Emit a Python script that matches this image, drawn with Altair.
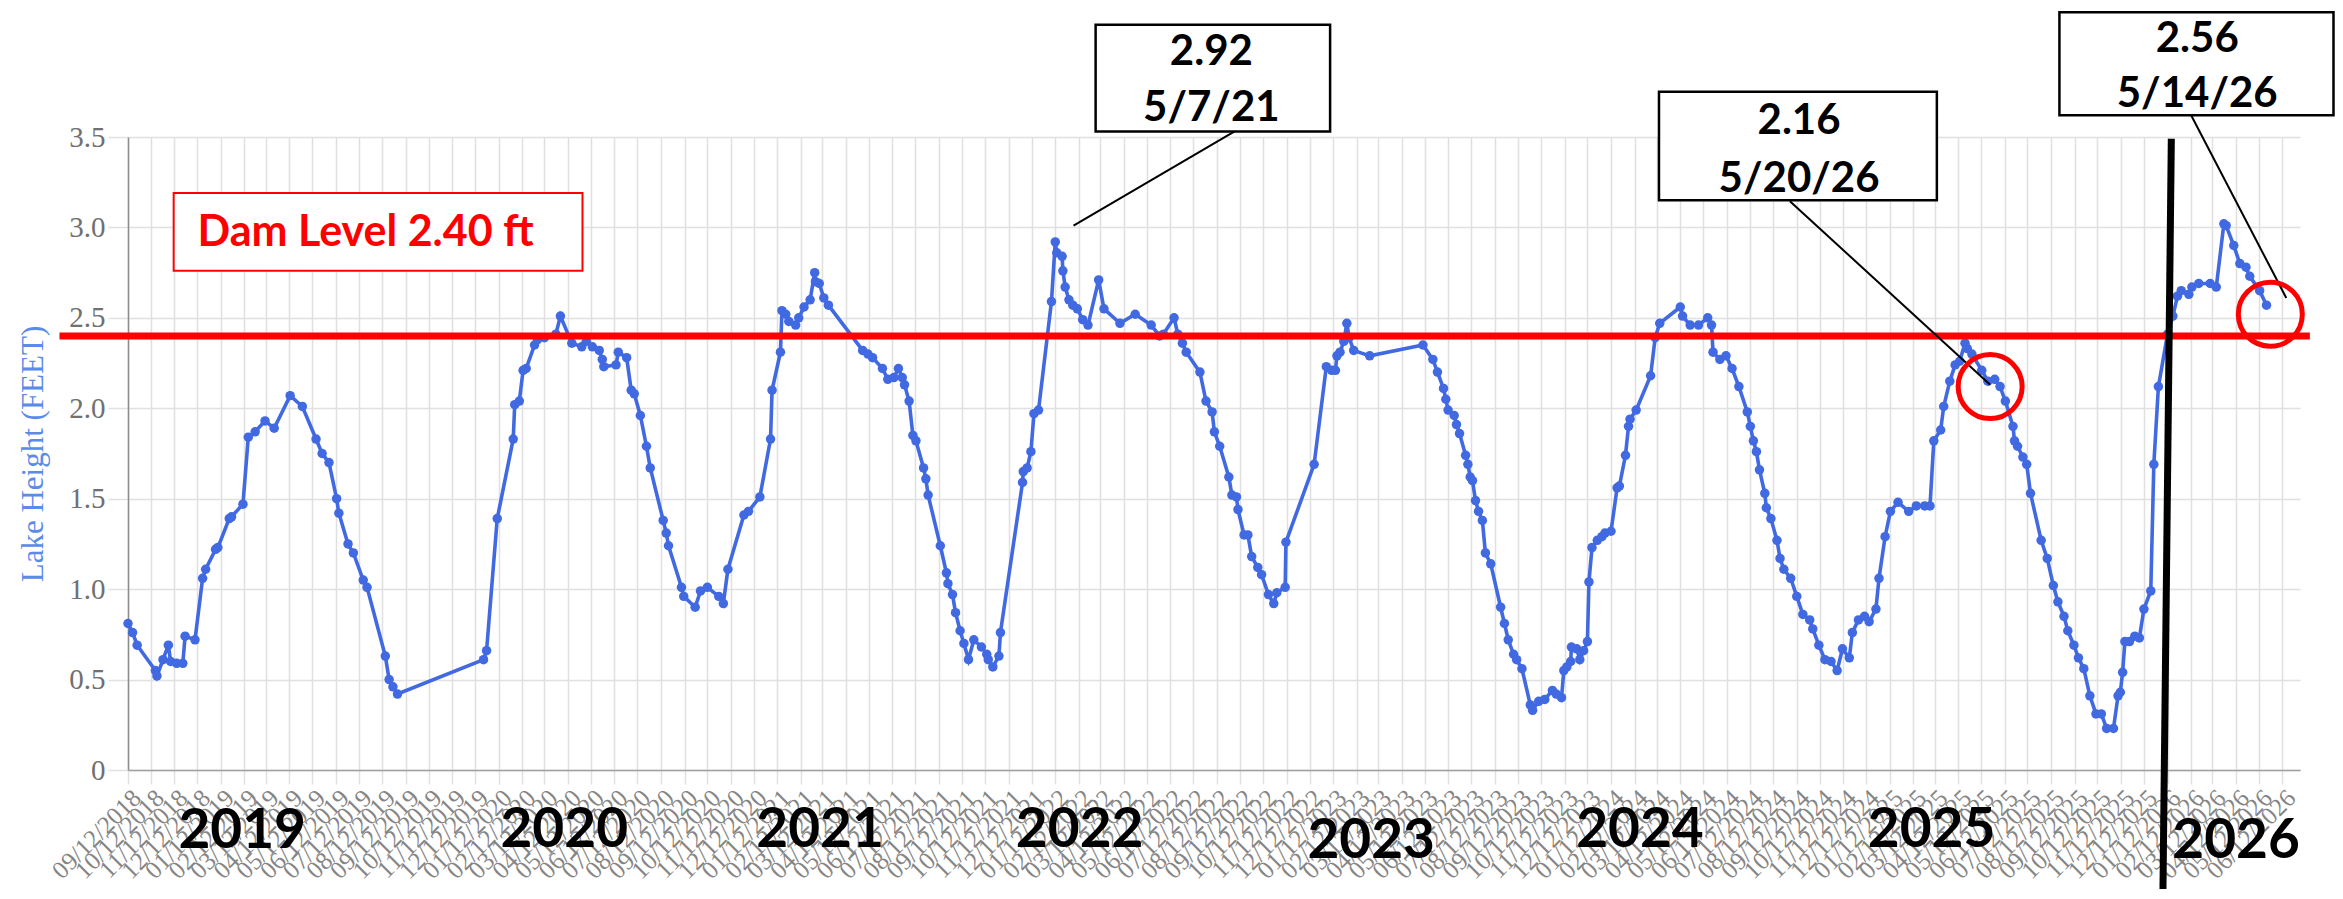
import altair as alt
import pandas as pd

BLUE = "#4169E1"
RED = "#ff0000"

# ---------------- data: lake height readings ----------------
dates_2018 = ["2018-09-12", "2018-09-18", "2018-09-24", "2018-10-18", "2018-10-20", "2018-10-28",
              "2018-11-04", "2018-11-07", "2018-11-15", "2018-11-23", "2018-11-26", "2018-12-09",
              "2018-12-19", "2018-12-23"]
vals_2018 = [0.81, 0.76, 0.69, 0.55, 0.52, 0.61, 0.69, 0.60, 0.59, 0.59, 0.74, 0.72, 1.06, 1.11]

dates_2019 = ["2019-01-05", "2019-01-08", "2019-01-23", "2019-01-26", "2019-02-10", "2019-02-17",
              "2019-02-26", "2019-03-11", "2019-03-23", "2019-04-13", "2019-04-29", "2019-05-17",
              "2019-05-25", "2019-06-03", "2019-06-13", "2019-06-16", "2019-06-28", "2019-07-05",
              "2019-07-18", "2019-07-23", "2019-08-16", "2019-08-21", "2019-08-26", "2019-09-01",
              "2019-12-23", "2019-12-27"]
vals_2019 = [1.22, 1.23, 1.39, 1.40, 1.47, 1.84, 1.87, 1.93, 1.89, 2.07, 2.01, 1.83, 1.75, 1.70,
             1.50, 1.42, 1.25, 1.20, 1.05, 1.01, 0.63, 0.50, 0.46, 0.42, 0.61, 0.66]

dates_2020 = ["2020-01-10", "2020-01-31", "2020-02-02", "2020-02-08", "2020-02-13", "2020-02-17",
              "2020-02-28", "2020-03-03", "2020-03-12", "2020-03-27", "2020-04-02", "2020-04-17",
              "2020-04-30", "2020-05-06", "2020-05-14", "2020-05-23", "2020-05-27", "2020-05-29",
              "2020-06-14", "2020-06-17", "2020-06-28", "2020-07-04", "2020-07-08", "2020-07-16",
              "2020-07-24", "2020-07-29", "2020-08-15", "2020-08-19", "2020-08-22", "2020-09-08",
              "2020-09-11", "2020-09-26", "2020-10-03", "2020-10-12", "2020-10-27", "2020-11-02",
              "2020-11-08", "2020-11-29", "2020-12-05", "2020-12-20"]
vals_2020 = [1.39, 1.83, 2.02, 2.04, 2.21, 2.22, 2.35, 2.38, 2.39, 2.41, 2.51, 2.36, 2.34, 2.37,
             2.34, 2.32, 2.27, 2.23, 2.24, 2.31, 2.28, 2.10, 2.08, 1.96, 1.79, 1.67, 1.38, 1.31,
             1.24, 1.01, 0.96, 0.90, 0.99, 1.01, 0.96, 0.92, 1.11, 1.41, 1.43, 1.51]

dates_2021 = ["2021-01-03", "2021-01-05", "2021-01-16", "2021-01-18", "2021-01-23", "2021-01-27",
              "2021-02-05", "2021-02-09", "2021-02-16", "2021-02-24", "2021-03-02", "2021-03-03",
              "2021-03-08", "2021-03-14", "2021-03-20", "2021-05-04", "2021-05-11", "2021-05-17",
              "2021-05-30", "2021-06-06", "2021-06-14", "2021-06-20", "2021-06-25", "2021-06-28",
              "2021-07-04", "2021-07-09", "2021-07-13", "2021-07-23", "2021-07-26", "2021-07-29",
              "2021-08-14", "2021-08-22", "2021-08-24", "2021-08-30", "2021-09-03", "2021-09-09",
              "2021-09-14", "2021-09-20", "2021-09-27", "2021-10-07", "2021-10-14", "2021-10-16",
              "2021-10-22", "2021-10-30", "2021-11-01", "2021-11-30", "2021-12-01", "2021-12-06",
              "2021-12-11", "2021-12-15", "2021-12-21"]
vals_2021 = [1.83, 2.10, 2.31, 2.54, 2.52, 2.48, 2.46, 2.50, 2.56, 2.60, 2.75, 2.70, 2.69, 2.61,
             2.57, 2.32, 2.30, 2.28, 2.22, 2.16, 2.17, 2.22, 2.17, 2.13, 2.04, 1.85, 1.82, 1.67,
             1.61, 1.52, 1.24, 1.09, 1.03, 0.97, 0.87, 0.77, 0.70, 0.61, 0.72, 0.68, 0.64, 0.61,
             0.57, 0.63, 0.76, 1.59, 1.65, 1.67, 1.76, 1.97, 1.99]

dates_2022 = ["2022-01-07", "2022-01-12", "2022-01-14", "2022-01-21", "2022-01-22", "2022-01-25",
              "2022-01-30", "2022-02-04", "2022-02-10", "2022-02-17", "2022-02-24", "2022-03-10",
              "2022-03-17", "2022-04-07", "2022-04-27", "2022-05-18", "2022-05-29", "2022-06-03",
              "2022-06-17", "2022-06-22", "2022-06-28", "2022-07-03", "2022-07-21", "2022-07-29",
              "2022-08-06", "2022-08-09", "2022-08-16", "2022-08-28", "2022-09-01", "2022-09-07",
              "2022-09-09", "2022-09-17", "2022-09-22", "2022-09-27", "2022-10-05", "2022-10-10",
              "2022-10-19", "2022-10-26", "2022-10-30", "2022-11-10", "2022-11-11", "2022-12-18"]
vals_2022 = [2.59, 2.92, 2.86, 2.84, 2.76, 2.67, 2.60, 2.57, 2.55, 2.49, 2.46, 2.71, 2.55, 2.47,
             2.52, 2.46, 2.40, 2.41, 2.50, 2.41, 2.36, 2.31, 2.20, 2.04, 1.98, 1.87, 1.79, 1.62,
             1.52, 1.51, 1.44, 1.30, 1.30, 1.18, 1.12, 1.08, 0.97, 0.92, 0.98, 1.01, 1.26, 1.69]

dates_2023 = ["2023-01-03", "2023-01-10", "2023-01-15", "2023-01-17", "2023-01-21", "2023-01-26",
              "2023-01-30", "2023-02-02", "2023-02-08", "2023-03-01", "2023-05-10", "2023-05-23",
              "2023-05-29", "2023-06-06", "2023-06-09", "2023-06-12", "2023-06-20", "2023-06-23",
              "2023-06-27", "2023-07-05", "2023-07-08", "2023-07-11", "2023-07-14", "2023-07-18",
              "2023-07-22", "2023-07-27", "2023-07-31", "2023-08-07", "2023-08-20", "2023-08-25",
              "2023-08-30", "2023-09-06", "2023-09-10", "2023-09-17", "2023-09-28", "2023-10-01",
              "2023-10-09", "2023-10-17", "2023-10-27", "2023-11-01", "2023-11-08", "2023-11-11",
              "2023-11-15", "2023-11-20", "2023-11-21", "2023-11-28", "2023-12-02", "2023-12-07",
              "2023-12-12", "2023-12-14", "2023-12-18", "2023-12-25", "2023-12-31"]
vals_2023 = [2.23, 2.21, 2.21, 2.29, 2.31, 2.37, 2.47, 2.39, 2.32, 2.29, 2.35, 2.27, 2.20, 2.11,
             2.05, 1.99, 1.96, 1.91, 1.86, 1.74, 1.69, 1.62, 1.60, 1.49, 1.43, 1.38, 1.20, 1.14,
             0.90, 0.81, 0.72, 0.64, 0.61, 0.56, 0.36, 0.33, 0.38, 0.39, 0.44, 0.42, 0.40, 0.55,
             0.57, 0.60, 0.68, 0.67, 0.61, 0.66, 0.71, 1.04, 1.23, 1.27, 1.29]

dates_2024 = ["2024-01-04", "2024-01-12", "2024-01-20", "2024-01-23", "2024-01-31", "2024-02-04",
              "2024-02-06", "2024-02-14", "2024-03-04", "2024-03-10", "2024-03-16", "2024-04-12",
              "2024-04-15", "2024-04-25", "2024-05-06", "2024-05-18", "2024-05-23", "2024-05-25",
              "2024-06-03", "2024-06-11", "2024-06-19", "2024-06-28", "2024-07-09", "2024-07-13",
              "2024-07-17", "2024-07-21", "2024-07-25", "2024-08-01", "2024-08-03", "2024-08-09",
              "2024-08-17", "2024-08-21", "2024-08-26", "2024-09-04", "2024-09-12", "2024-09-20",
              "2024-09-29", "2024-10-03", "2024-10-11", "2024-10-19", "2024-10-27", "2024-11-04",
              "2024-11-11", "2024-11-20", "2024-11-24", "2024-12-02", "2024-12-10", "2024-12-16",
              "2024-12-25", "2024-12-29"]
vals_2024 = [1.31, 1.32, 1.56, 1.57, 1.74, 1.90, 1.94, 1.99, 2.18, 2.39, 2.47, 2.56, 2.51, 2.46,
             2.46, 2.50, 2.46, 2.31, 2.27, 2.29, 2.22, 2.12, 1.98, 1.90, 1.82, 1.76, 1.66, 1.53,
             1.45, 1.39, 1.27, 1.17, 1.11, 1.06, 0.96, 0.86, 0.83, 0.78, 0.69, 0.61, 0.60, 0.55,
             0.67, 0.62, 0.76, 0.83, 0.85, 0.82, 0.89, 1.06]

dates_2025 = ["2025-01-06", "2025-01-13", "2025-01-23", "2025-02-06", "2025-02-16", "2025-02-27",
              "2025-03-06", "2025-03-11", "2025-03-20", "2025-03-24", "2025-04-01", "2025-04-08",
              "2025-04-14", "2025-04-21", "2025-04-24", "2025-04-30", "2025-05-13", "2025-05-21",
              "2025-05-30", "2025-06-06", "2025-06-13", "2025-06-23", "2025-06-25", "2025-06-29",
              "2025-07-06", "2025-07-11", "2025-07-16", "2025-07-30", "2025-08-07", "2025-08-15",
              "2025-08-21", "2025-08-29", "2025-09-03", "2025-09-11", "2025-09-17", "2025-09-24",
              "2025-10-02", "2025-10-10", "2025-10-17", "2025-10-24", "2025-11-02", "2025-11-08",
              "2025-11-11", "2025-11-14", "2025-11-17", "2025-11-23", "2025-11-30", "2025-12-06",
              "2025-12-12", "2025-12-21", "2025-12-25", "2025-12-31"]
vals_2025 = [1.29, 1.43, 1.48, 1.43, 1.46, 1.46, 1.46, 1.82, 1.88, 2.01, 2.15, 2.24, 2.26, 2.36,
             2.33, 2.30, 2.21, 2.15, 2.16, 2.12, 2.04, 1.90, 1.82, 1.79, 1.73, 1.69, 1.53, 1.27,
             1.17, 1.02, 0.93, 0.85, 0.77, 0.69, 0.62, 0.56, 0.41, 0.31, 0.31, 0.23, 0.23, 0.41,
             0.43, 0.54, 0.71, 0.71, 0.74, 0.73, 0.89, 0.99, 1.69, 2.12]

dates_2026 = ["2026-01-12", "2026-01-19", "2026-01-25", "2026-01-30", "2026-02-09", "2026-02-13",
              "2026-02-22", "2026-03-09", "2026-03-17", "2026-03-27", "2026-03-30", "2026-04-09",
              "2026-04-17", "2026-04-25", "2026-04-30", "2026-05-13", "2026-05-22"]
vals_2026 = [2.41, 2.51, 2.62, 2.65, 2.63, 2.67, 2.69, 2.69, 2.67, 3.02, 3.01, 2.90, 2.80, 2.78,
             2.73, 2.65, 2.57]

all_dates = (dates_2018 + dates_2019 + dates_2020 + dates_2021 + dates_2022 + dates_2023
             + dates_2024 + dates_2025 + dates_2026)
all_vals = (vals_2018 + vals_2019 + vals_2020 + vals_2021 + vals_2022 + vals_2023
            + vals_2024 + vals_2025 + vals_2026)
df = pd.DataFrame({"date": all_dates, "value": all_vals})

# ---------------- annotations (data coordinates) ----------------
dam_level = 2.40
dam_line = pd.DataFrame({"date": ["2018-06-14"], "date2": ["2026-07-18"], "value": [dam_level]})
dam_box = pd.DataFrame({"date": ["2018-11-11"], "date2": ["2020-05-01"], "value": [3.19], "value2": [2.76]})
dam_text = pd.DataFrame({"date": ["2019-07-21"], "value": [2.97], "label": ["Dam Level 2.40 ft"]})

box_x1 = ["2022-03-06", "2024-03-15", "2025-08-23"]
box_x2 = ["2023-01-08", "2025-03-15", "2026-08-18"]
box_top = [4.12, 3.75, 4.19]
box_bottom = [3.53, 3.15, 3.62]
boxes = pd.DataFrame({"date": box_x1, "date2": box_x2, "value": box_top, "value2": box_bottom})

note_dates = ["2022-08-05", "2022-08-05", "2024-09-15", "2024-09-15", "2026-02-20", "2026-02-20"]
note_vals = [3.97, 3.66, 3.59, 3.27, 4.04, 3.74]
note_text = ["2.92", "5/7/21", "2.16", "5/20/26", "2.56", "5/14/26"]
notes = pd.DataFrame({"date": note_dates, "value": note_vals, "label": note_text})

conn_x1 = ["2022-02-05", "2024-09-03", "2026-02-12"]
conn_y1 = [3.01, 3.145, 3.62]
conn_x2 = ["2022-09-04", "2025-05-24", "2026-06-17"]
conn_y2 = [3.53, 2.13, 2.61]
connectors = pd.DataFrame({"date": conn_x1, "value": conn_y1, "date2": conn_x2, "value2": conn_y2})

circle_dates = ["2025-05-24", "2026-05-27"]
circle_vals = [2.12, 2.52]
circles = pd.DataFrame({"date": circle_dates, "value": circle_vals})

marker = pd.DataFrame({"date": ["2026-01-17"], "value": [3.49], "date2": ["2026-01-06"], "value2": [-0.66]})

year_labels = ["2019", "2020", "2021", "2022", "2023", "2024", "2025", "2026"]
year_dates = ["2019-02-09", "2020-04-07", "2021-03-09", "2022-02-13", "2023-03-03", "2024-02-19",
              "2025-03-08", "2026-04-12"]
year_vals = [-0.34, -0.33, -0.33, -0.33, -0.39, -0.33, -0.33, -0.39]
years = pd.DataFrame({"date": year_dates, "value": year_vals, "label": year_labels})

# ---------------- scales / axes ----------------
x_scale = alt.Scale(type="utc", domain=[alt.DateTime(year=2018, month=9, date=12, utc=True),
                                        alt.DateTime(year=2026, month=7, date=5, utc=True)])
y_scale = alt.Scale(domain=[0, 3.5], nice=False, zero=False)

tick_values = [alt.DateTime(year=2018 + (8 + i) // 12, month=(8 + i) % 12 + 1, date=12, utc=True)
               for i in range(94)]
y_ticks = [0, 0.5, 1.0, 1.5, 2.0, 2.5, 3.0, 3.5]

GRID = "#e0e0e0"
x_axis = alt.Axis(values=tick_values, format="%m/%d/%Y", labelAngle=-45,
                  labelFont="Liberation Serif", labelFontSize=25, labelColor="#858585",
                  labelOverlap=False, labelFlush=False, labelBound=False, labelPadding=1,
                  grid=True, gridColor=GRID, gridWidth=1.5,
                  tickColor=GRID, tickSize=14, tickWidth=1.5,
                  domainColor="#a0a0a0", domainWidth=1.5, title=None)
y_axis = alt.Axis(values=y_ticks, labelExpr="datum.value == 0 ? '0' : format(datum.value, '.1f')",
                  labelFont="Liberation Serif", labelFontSize=29, labelColor="#707070", labelPadding=3,
                  grid=True, gridColor=GRID, gridWidth=1.5,
                  tickColor=GRID, tickSize=20, tickWidth=1.5,
                  domainColor="#8c8c8c", domainWidth=1.5,
                  title="Lake Height (FEET)", titleFont="Liberation Serif", titleFontSize=31,
                  titleFontWeight="normal", titleColor="#5b8be8", titlePadding=19)


def X(field="date"):
    return alt.X(f"{field}:T", scale=x_scale, axis=x_axis)


def Y(field="value"):
    return alt.Y(f"{field}:Q", scale=y_scale, axis=y_axis)


line = alt.Chart(df).mark_line(
    color=BLUE, strokeWidth=3.6,
    point=alt.OverlayMarkDef(filled=True, size=90, color=BLUE, opacity=1)
).encode(x=X(), y=Y())

dam_rule = alt.Chart(dam_line).mark_rule(color=RED, strokeWidth=7).encode(
    x=X(), x2="date2:T", y=Y())

dam_rect = alt.Chart(dam_box).mark_rect(fill="white", stroke=RED, strokeWidth=2).encode(
    x=X(), x2="date2:T", y=Y(), y2="value2:Q")

dam_label = alt.Chart(dam_text).mark_text(
    color=RED, font="Lato", fontWeight="bold", fontSize=43, align="center", baseline="middle"
).encode(x=X(), y=Y(), text="label:N")

box_rects = alt.Chart(boxes).mark_rect(fill="white", stroke="black", strokeWidth=2.5).encode(
    x=X(), x2="date2:T", y=Y(), y2="value2:Q")

box_texts = alt.Chart(notes).mark_text(
    color="black", font="Lato", fontWeight="bold", fontSize=42, align="center", baseline="middle"
).encode(x=X(), y=Y(), text="label:N")

conn = alt.Chart(connectors).mark_rule(color="black", strokeWidth=2).encode(
    x=X(), y=Y(), x2="date2:T", y2="value2:Q")

rings = alt.Chart(circles).mark_point(
    shape="circle", filled=False, size=4100, stroke=RED, strokeWidth=5, opacity=1
).encode(x=X(), y=Y())

black_line = alt.Chart(marker).mark_rule(color="black", strokeWidth=7).encode(
    x=X(), y=Y(), x2="date2:T", y2="value2:Q")

year_text = alt.Chart(years).mark_text(
    color="black", font="Lato", fontWeight="bold", fontSize=55, align="center", baseline="middle"
).encode(x=X(), y=Y(), text="label:N")

chart = alt.layer(
    line, dam_rule, dam_rect, dam_label, box_rects, box_texts, conn, rings, black_line, year_text
).properties(
    width=2172, height=633,
    autosize=alt.AutoSizeParams(type="none"),
    padding={"left": 120, "top": 129, "right": 35, "bottom": 119},
    background="white",
).configure_view(stroke=None)

chart.save("out.html", embed_options={"renderer": "svg", "actions": False})
